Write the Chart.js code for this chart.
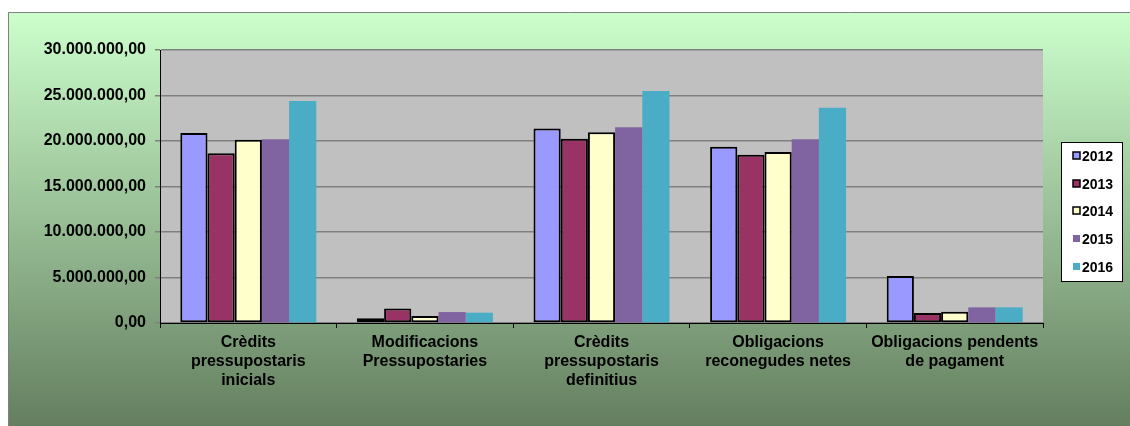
<!DOCTYPE html>
<html>
<head>
<meta charset="utf-8">
<script src="https://cdn.jsdelivr.net/npm/chart.js@4"></script>
<style>
  html, body { margin: 0; padding: 0; background: #fff; }
  #wrap { width: 1130px; height: 426px; }
</style>
</head>
<body>
<div id="wrap"><canvas id="pressupost"></canvas></div>
<script>
const categories = [
  ["Crèdits", "pressupostaris", "inicials"],
  ["Modificacions", "Pressupostaries"],
  ["Crèdits", "pressupostaris", "definitius"],
  ["Obligacions", "reconegudes netes"],
  ["Obligacions pendents", "de pagament"],
];
const years = ["2012", "2013", "2014", "2015", "2016"];
const values2012 = [20880000, 510000, 21360000, 19380000, 5160000];
const values2013 = [18650000, 1600000, 20260000, 18500000, 1100000];
const values2014 = [20150000, 770000, 20950000, 18800000, 1240000];
const values2015 = [20200000, 1200000, 21500000, 20200000, 1720000];
const values2016 = [24400000, 1130000, 25500000, 23660000, 1720000];
const yTicks = [0, 5000000, 10000000, 15000000, 20000000, 25000000, 30000000];

const colors = ["#9999ff", "#993366", "#ffffcc", "#8064a2", "#4bacc6"];
const bordered = [true, true, true, false, false];

function fmt(v) {
  const parts = Math.round(v).toString().replace(/\B(?=(\d{3})+(?!\d))/g, ".");
  return parts + ",00";
}

const series = [values2012, values2013, values2014, values2015, values2016];

const background = {
  id: "background",
  beforeDraw(chart) {
    const ctx = chart.ctx;
    const w = chart.width, h = chart.height;
    ctx.save();
    ctx.fillStyle = "#ffffff";
    ctx.fillRect(0, 0, w, h);
    const g = ctx.createLinearGradient(0, 12, 0, h);
    g.addColorStop(0, "#ccffcc");
    g.addColorStop(1, "#647e5f");
    ctx.fillStyle = g;
    ctx.fillRect(8, 12, w, h);
    ctx.strokeStyle = "#808080";
    ctx.lineWidth = 1;
    ctx.beginPath();
    ctx.moveTo(8.5, h);
    ctx.lineTo(8.5, 12.5);
    ctx.lineTo(w, 12.5);
    ctx.stroke();
    const a = chart.chartArea;
    ctx.fillStyle = "#c0c0c0";
    ctx.fillRect(a.left, a.top, a.right - a.left, a.bottom - a.top);
    ctx.restore();
  },
  afterDraw(chart) {
    const ctx = chart.ctx;
    ctx.save();
    ctx.fillStyle = "#ffffff";
    ctx.fillRect(1061, 142, 61, 140);
    ctx.strokeStyle = "#000000";
    ctx.lineWidth = 1;
    ctx.strokeRect(1061.5, 142.5, 61, 139);
    ctx.font = "bold 14px 'Liberation Sans', Arial, sans-serif";
    ctx.textBaseline = "middle";
    chart.data.datasets.forEach((ds, i) => {
      const y = 156 + i * 27.7;
      ctx.fillStyle = ds.backgroundColor;
      ctx.fillRect(1073, Math.round(y) - 4, 7, 7);
      if (ds.borderWidth > 0) {
        ctx.strokeStyle = "#000";
        ctx.lineWidth = 1.5;
        ctx.strokeRect(1073, Math.round(y) - 4, 7, 7);
      }
      ctx.fillStyle = "#000";
      ctx.fillText(ds.label, 1082, y + 1);
    });
    ctx.restore();
  },
};

new Chart(document.getElementById("pressupost"), {
  type: "bar",
  data: {
    labels: categories,
    datasets: years.map((y, i) => ({
      label: y,
      data: series[i],
      backgroundColor: colors[i],
      borderColor: "#000000",
      borderWidth: bordered[i] ? 2 : 0,
      borderSkipped: false,
      categoryPercentage: 0.77,
      barPercentage: 1.0,
    })),
  },
  options: {
    responsive: true,
    maintainAspectRatio: false,
    animation: false,
    layout: { padding: { top: 50, right: 87, left: 0, bottom: 0 } },
    plugins: {
      legend: { display: false },
      tooltip: { enabled: false },
    },
    scales: {
      x: {
        offset: true,
        grid: {
          display: true,
          drawOnChartArea: false,
          offset: true,
          tickLength: 5,
          color: "#000000",
        },
        border: { color: "#000000", width: 1 },
        ticks: {
          color: "#000000",
          padding: 5,
          maxRotation: 0,
          autoSkip: false,
          font: { family: "'Liberation Sans Narrow', 'Arial Narrow', 'Liberation Sans', Arial, sans-serif", size: 16, weight: "bold", lineHeight: 1.19 },
        },
        afterFit(scale) { scale.height = 103; },
      },
      y: {
        min: 0,
        max: 30000000,
        afterBuildTicks(scale) { scale.ticks = yTicks.map((v) => ({ value: v })); },
        grid: {
          color: "#808080",
          lineWidth: 1.5,
          tickLength: 5,
          tickColor: "#808080",
        },
        border: { color: "#000000", width: 1 },
        ticks: {
          color: "#000000",
          padding: 9,
          font: { family: "'Liberation Sans', Arial, sans-serif", size: 16, weight: "bold" },
          callback: (v) => fmt(v),
        },
        afterFit(scale) { scale.width = 160; },
      },
    },
  },
  plugins: [background],
});
</script>
</body>
</html>
